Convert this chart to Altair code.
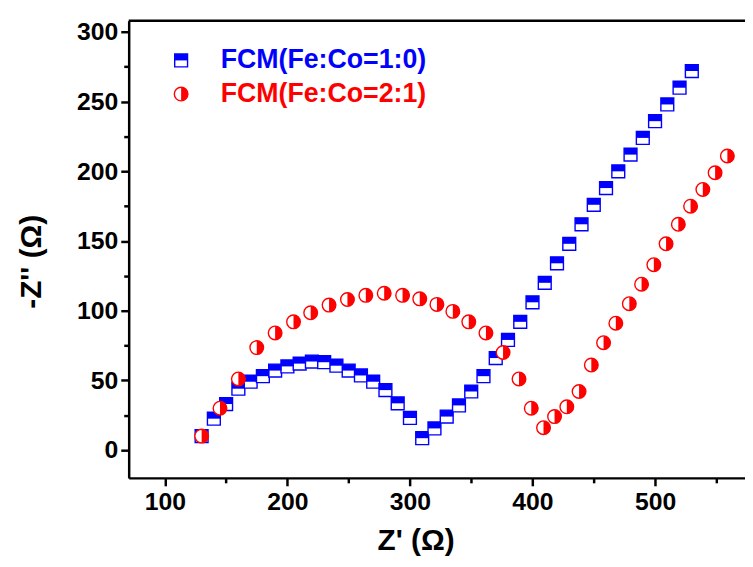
import math
import altair as alt
import pandas as pd

# ---- data ----
blue_x = [130, 140, 150, 160, 170, 180, 190, 200, 210, 220, 230, 240, 250, 260, 270,
          280, 290, 300, 310, 320, 330, 340, 350, 360, 370, 380, 390, 400, 410, 420,
          430, 440, 450, 460, 470, 480, 490, 500, 510, 520, 530]
blue_y = [10, 22.5, 33, 44, 49, 53, 57, 60, 62, 63.5, 63, 60.5, 57, 53.5, 49,
          43, 33.5, 23, 8.5, 15.5, 24, 32, 42, 53, 66, 79, 92, 106, 120, 134,
          148, 162, 176, 188, 200, 212, 224, 236, 248, 260, 272]

red_x = [130, 145, 160, 175, 190, 205, 219, 234, 249, 264, 279, 294, 308, 322, 335,
         348, 362, 376, 389, 399, 409, 418, 428, 438, 448, 458, 468, 479, 489, 499,
         509, 519, 529, 539, 549, 559]
red_y = [10, 30, 51, 73.5, 84, 92, 98.5, 104, 108, 111, 112.5, 111, 108.5, 104.5, 99.5,
         92, 84, 70, 51, 30, 16, 24, 31, 42, 61, 77, 91, 105, 119, 133,
         148, 162, 175, 187, 199, 211]

series_names = ["FCM(Fe:Co=1:0)", "FCM(Fe:Co=2:1)"]
series_colors = ["#0000ff", "#ff0000"]

x_ticks = [100, 150, 200, 250, 300, 350, 400, 450, 500, 550]
y_ticks = [0, 25, 50, 75, 100, 125, 150, 175, 200, 225, 250, 275, 300]
x_domain = [70.5, 573.4]
y_domain = [-20, 308]

W, H = 623, 462
FONT = "Liberation Sans"

blue = pd.DataFrame({"x": blue_x, "y": blue_y})
red = pd.DataFrame({"x": red_x, "y": red_y})

# marker shapes (unit-box paths)
top_half_square = "M-1,-1L1,-1L1,0L-1,0Z"
pts = []
for i in range(0, 25):
    a = -math.pi / 2 + math.pi * i / 24
    pts.append(f"{math.cos(a):.4f},{math.sin(a):.4f}")
right_half_circle = "M" + "L".join(pts) + "Z"

xscale = alt.Scale(domain=x_domain, nice=False, zero=False)
yscale = alt.Scale(domain=y_domain, nice=False, zero=False)

xaxis = alt.Axis(
    values=x_ticks,
    labelExpr="datum.value % 100 === 0 ? datum.label : ''",
    tickSize={"condition": {"test": "datum.value % 100 === 0", "value": 8}, "value": 5},
    title="Z' (Ω)",
    titleX=290, titleY=63, titleBaseline="middle", titleAlign="center",
    labelPadding=4, grid=False,
)
yaxis = alt.Axis(
    values=y_ticks,
    labelExpr="datum.value % 50 === 0 ? datum.label : ''",
    tickSize={"condition": {"test": "datum.value % 50 === 0", "value": 8}, "value": 5},
    title="-Z'' (Ω)",
    titleX=-98, titleY=243, titleBaseline="middle", titleAlign="center", titleAngle=270,
    labelPadding=3, grid=False,
)

MS = 169  # marker area (13 px)


def base(df):
    return alt.Chart(df).encode(
        x=alt.X("x:Q", scale=xscale, axis=xaxis),
        y=alt.Y("y:Q", scale=yscale, axis=yaxis),
    )


blue_outline = base(blue).mark_point(shape="square", size=MS, filled=True, fill="white",
                                     stroke=series_colors[0], strokeWidth=1.4, opacity=1)
blue_half = base(blue).mark_point(shape=top_half_square, size=MS, filled=True,
                                  fill=series_colors[0], strokeWidth=0, opacity=1)
red_outline = base(red).mark_point(shape="circle", size=MS + 20, filled=True, fill="white",
                                   stroke=series_colors[1], strokeWidth=1.4, opacity=1)
red_half = base(red).mark_point(shape=right_half_circle, size=MS + 20, filled=True,
                                fill=series_colors[1], strokeWidth=0, opacity=1)

# top frame line
frame_top = alt.Chart(pd.DataFrame({"a": [0]})).mark_rule(color="black", strokeWidth=2.5).encode(
    x=alt.value(0), x2=alt.value(W), y=alt.value(0)
)

# legend
leg = pd.DataFrame({"name": series_names, "color": series_colors})
leg_blue = leg.iloc[[0]]
leg_red = leg.iloc[[1]]
LX, TX = 53, 93
LY1, LY2 = 40, 74

lb_out = alt.Chart(leg_blue).mark_point(shape="square", size=MS, filled=True, fill="white",
                                        stroke=series_colors[0], strokeWidth=1.4, opacity=1).encode(
    x=alt.value(LX), y=alt.value(LY1))
lb_half = alt.Chart(leg_blue).mark_point(shape=top_half_square, size=MS, filled=True,
                                         fill=series_colors[0], strokeWidth=0, opacity=1).encode(
    x=alt.value(LX), y=alt.value(LY1))
lb_text = alt.Chart(leg_blue).mark_text(align="left", baseline="middle", font=FONT, fontSize=27,
                                        fontWeight="bold", color=series_colors[0]).encode(
    x=alt.value(TX), y=alt.value(LY1), text="name:N")
lr_out = alt.Chart(leg_red).mark_point(shape="circle", size=MS + 20, filled=True, fill="white",
                                       stroke=series_colors[1], strokeWidth=1.4, opacity=1).encode(
    x=alt.value(LX), y=alt.value(LY2))
lr_half = alt.Chart(leg_red).mark_point(shape=right_half_circle, size=MS + 20, filled=True,
                                        fill=series_colors[1], strokeWidth=0, opacity=1).encode(
    x=alt.value(LX), y=alt.value(LY2))
lr_text = alt.Chart(leg_red).mark_text(align="left", baseline="middle", font=FONT, fontSize=27,
                                       fontWeight="bold", color=series_colors[1]).encode(
    x=alt.value(TX), y=alt.value(LY2), text="name:N")

chart = alt.layer(
    frame_top, blue_outline, blue_half, red_outline, red_half,
    lb_out, lb_half, lb_text, lr_out, lr_half, lr_text,
).properties(
    width=W, height=H,
    background="white",
    autosize=alt.AutoSizeParams(type="none"),
    padding={"left": 122, "top": 10, "right": 0, "bottom": 79},
).configure_view(stroke=None).configure_axis(
    domainColor="black", domainWidth=2.5, tickColor="black", tickWidth=2.5,
    labelFont=FONT, labelFontSize=25, labelFontWeight="bold", labelColor="black",
    titleFont=FONT, titleFontSize=30, titleFontWeight="bold", titleColor="black",
    grid=False,
)

chart.save("out.html", embed_options={"renderer": "svg", "actions": False})
